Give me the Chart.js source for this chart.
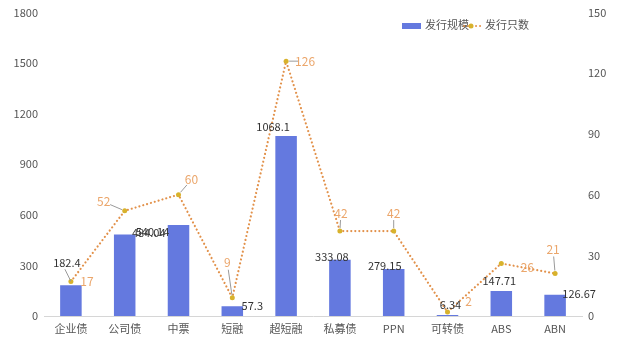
<!DOCTYPE html>
<html>
<head>
<meta charset="utf-8">
<script src="https://cdn.jsdelivr.net/npm/chart.js@4"></script>
<style>
  html, body { margin: 0; padding: 0; background: #fff; }
  #wrap { width: 640px; height: 353px; }
</style>
</head>
<body>
<div id="wrap"><canvas id="myChart" width="640" height="353"></canvas></div>
<script>
// chart data
var categories = ['企业债', '公司债', '中票', '短融', '超短融', '私募债', 'PPN', '可转债', 'ABS', 'ABN'];
var issueSize = [182.4, 484.04, 540.14, 57.3, 1068.1, 333.08, 279.15, 6.34, 147.71, 126.67];
var issueCount = [17, 52, 60, 9, 126, 42, 42, 2, 26, 21];
var leftTicks = [0, 300, 600, 900, 1200, 1500, 1800];
var rightTicks = [0, 30, 60, 90, 120, 150];

// label placement (offset from the mark, and whether a leader line is drawn)
var barLabelPos = [[-4, -22, 1], [24, -2, 0], [-26, 7, 0], [20, -1, 0], [-13, -9, 0],
                   [-8, -3, 0], [-9, -3, 0], [3, -10, 0], [-2, -10, 0], [24, -1, 0]];
var lineLabelPos = [[16, 0, 0], [-21, -9, 1], [13, -15, 1], [-5, -35, 1], [19, 0, 1],
                    [1, -18, 1], [0, -18, 1], [21, -11, 0], [26, 4, 0], [-2, -24, 1]];

var FONT = "'Noto Sans CJK SC', 'Noto Sans', sans-serif";
var BAR_COLOR = '#6479df';
var LINE_COLOR = '#e2914a';
var POINT_COLOR = '#d8b22c';

function drawLeader(ctx, x1, y1, x2, y2) {
	ctx.save();
	ctx.strokeStyle = '#9a9a9a';
	ctx.lineWidth = 1;
	ctx.beginPath();
	ctx.moveTo(x1, y1);
	ctx.lineTo(x2, y2);
	ctx.stroke();
	ctx.restore();
}

var labelPlugin = {
	id: 'labels',
	afterDatasetsDraw: function(chart) {
		var ctx = chart.ctx;
		ctx.save();
		ctx.textAlign = 'center';
		ctx.textBaseline = 'middle';

		ctx.font = '11px ' + FONT;
		var bars = chart.getDatasetMeta(0).data;
		bars.forEach(function(el, i) {
			var p = barLabelPos[i];
			var lx = el.x + p[0], ly = el.y + p[1];
			if (p[2]) drawLeader(ctx, lx - 2, ly + 6, el.x, el.y - 4);
			ctx.fillStyle = '#333';
			ctx.fillText(String(issueSize[i]), lx, ly);
		});

		ctx.font = '12px ' + FONT;
		var pts = chart.getDatasetMeta(1).data;
		pts.forEach(function(el, i) {
			var p = lineLabelPos[i];
			var lx = el.x + p[0], ly = el.y + p[1];
			if (p[2]) {
				var dx = el.x - lx, dy = el.y - ly;
				var len = Math.sqrt(dx * dx + dy * dy);
				var sx = lx + dx / len * 7, sy = ly + dy / len * 7;
				drawLeader(ctx, sx, sy, el.x - dx / len * 3, el.y - dy / len * 3);
			}
			ctx.fillStyle = '#eba66b';
			ctx.fillText(String(issueCount[i]), lx, ly);
		});
		ctx.restore();
	},
	afterDraw: function(chart) {
		// legend drawn by hand so that it sits over the plot area
		var ctx = chart.ctx;
		ctx.save();
		ctx.font = '11px ' + FONT;
		ctx.textBaseline = 'middle';
		ctx.fillStyle = BAR_COLOR;
		ctx.fillRect(402, 23, 19, 6);
		ctx.fillStyle = '#555';
		ctx.fillText('发行规模', 425, 25);
		ctx.strokeStyle = LINE_COLOR;
		ctx.lineWidth = 2;
		ctx.lineCap = 'round';
		ctx.setLineDash([0.01, 4]);
		ctx.beginPath();
		ctx.moveTo(464, 26);
		ctx.lineTo(481, 26);
		ctx.stroke();
		ctx.setLineDash([]);
		ctx.fillStyle = POINT_COLOR;
		ctx.beginPath();
		ctx.arc(471, 26, 2.5, 0, Math.PI * 2);
		ctx.fill();
		ctx.fillStyle = '#555';
		ctx.fillText('发行只数', 485, 25);
		ctx.restore();
	}
};

var ctx = document.getElementById('myChart').getContext('2d');
var myChart = new Chart(ctx, {
	type: 'bar',
	data: {
		labels: categories,
		datasets: [{
			type: 'bar',
			label: '发行规模',
			data: issueSize,
			backgroundColor: BAR_COLOR,
			yAxisID: 'y',
			barPercentage: 0.4,
			categoryPercentage: 1,
			order: 2
		}, {
			type: 'line',
			label: '发行只数',
			data: issueCount,
			borderColor: LINE_COLOR,
			borderWidth: 2.2,
			borderDash: [0.01, 4],
			borderCapStyle: 'round',
			pointRadius: 2.5,
			pointBackgroundColor: POINT_COLOR,
			pointBorderWidth: 0,
			tension: 0,
			fill: false,
			yAxisID: 'y1',
			order: 1
		}]
	},
	options: {
		responsive: false,
		animation: false,
		layout: { padding: { top: 1, right: 0, left: 0, bottom: 0 } },
		plugins: {
			legend: { display: false },
			tooltip: { enabled: false }
		},
		scales: {
			x: {
				grid: { display: false, drawTicks: false },
				border: { color: '#d6d6d6' },
				ticks: { color: '#555', font: { family: FONT, size: 11 }, padding: 6 },
				afterFit: function(scale) { scale.height = 37; }
			},
			y: {
				position: 'left',
				min: 0, max: 1800,
				afterBuildTicks: function(scale) {
					scale.ticks = leftTicks.map(function(v) { return { value: v }; });
				},
				grid: { display: false, drawTicks: false },
				border: { display: false },
				ticks: {
					color: '#555', font: { family: FONT, size: 11 }, padding: 6,
					callback: function(v) { return String(v); }
				},
				afterFit: function(scale) { scale.width = 44; }
			},
			y1: {
				position: 'right',
				min: 0, max: 150,
				afterBuildTicks: function(scale) {
					scale.ticks = rightTicks.map(function(v) { return { value: v }; });
				},
				grid: { display: false, drawTicks: false },
				border: { display: false },
				ticks: {
					color: '#555', font: { family: FONT, size: 11 }, padding: 6,
					callback: function(v) { return String(v); }
				},
				afterFit: function(scale) { scale.width = 58; }
			}
		}
	},
	plugins: [labelPlugin]
});
</script>
</body>
</html>
